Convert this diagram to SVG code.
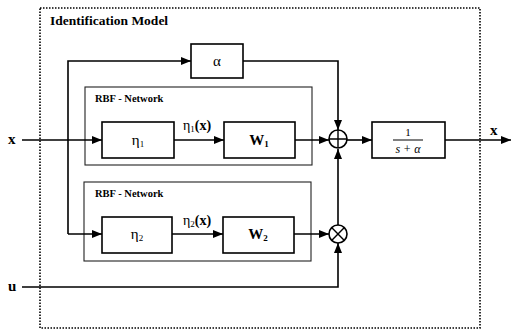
<svg xmlns="http://www.w3.org/2000/svg" width="513" height="331" viewBox="0 0 513 331" font-family="'Liberation Serif', 'DejaVu Serif', serif">
<style>
text{font-family:'Liberation Serif','DejaVu Serif',serif;fill:#000}
.b{font-weight:bold}
.box{fill:#fff;stroke:#000;stroke-width:1.6}
.net{fill:none;stroke:#222;stroke-width:1.1}
.ln{fill:none;stroke:#000;stroke-width:1.6}
.sub{font-size:9px}
</style>
<defs>
<marker id="ah" markerWidth="10" markerHeight="8" refX="10" refY="4" orient="auto" markerUnits="userSpaceOnUse">
<path d="M0,0 L10,4 L0,8 Z" fill="#000"/>
</marker>
</defs>
<rect x="0" y="0" width="513" height="331" fill="#fff"/>
<g id="outer">
<rect x="40" y="8" width="440" height="320" fill="none" stroke="#000" stroke-width="1.6" stroke-dasharray="1.5 1.5"/>
<text x="50" y="25" class="b" font-size="13.5">Identification Model</text>
</g>
<g id="rbf1">
<rect x="85" y="87" width="227" height="78" class="net"/>
<text x="95" y="102" class="b" font-size="10.5">RBF - Network</text>
</g>
<g id="rbf2">
<rect x="84" y="182" width="227" height="79" class="net"/>
<text x="95" y="197" class="b" font-size="10.5">RBF - Network</text>
</g>
<g id="connectors">
<path class="ln" d="M22,140 H102" marker-end="url(#ah)"/>
<path class="ln" d="M68,234 V61 H191" marker-end="url(#ah)"/>
<path class="ln" d="M68,234 H102" marker-end="url(#ah)"/>
<path class="ln" d="M243,61 H338 V130" marker-end="url(#ah)"/>
<path class="ln" d="M174,140 H224" marker-end="url(#ah)"/>
<path class="ln" d="M295,140 H329" marker-end="url(#ah)"/>
<path class="ln" d="M347,140 H372" marker-end="url(#ah)"/>
<path class="ln" d="M445,140 H511" marker-end="url(#ah)"/>
<path class="ln" d="M172,234 H223" marker-end="url(#ah)"/>
<path class="ln" d="M294,234 H329" marker-end="url(#ah)"/>
<path class="ln" d="M338,225 V149" marker-end="url(#ah)"/>
<path class="ln" d="M22,287 H338 V243" marker-end="url(#ah)"/>
</g>
<g id="alpha">
<rect x="191" y="44" width="52" height="34" class="box"/>
<text x="217" y="66" font-size="15" text-anchor="middle">α</text>
</g>
<g id="eta1">
<rect x="102" y="122" width="72" height="36" class="box"/>
<text x="138" y="145" font-size="15" text-anchor="middle">η<tspan class="sub" dy="2">1</tspan></text>
</g>
<g id="w1">
<rect x="224" y="122" width="71" height="36" class="box"/>
<text x="259" y="145" font-size="15" class="b" text-anchor="middle">W<tspan class="sub" dy="2">1</tspan></text>
</g>
<g id="eta2">
<rect x="102" y="217" width="70" height="36" class="box"/>
<text x="137" y="239" font-size="15" text-anchor="middle">η<tspan class="sub" dy="2">2</tspan></text>
</g>
<g id="w2">
<rect x="223" y="217" width="71" height="36" class="box"/>
<text x="258" y="239" font-size="15" class="b" text-anchor="middle">W<tspan class="sub" dy="2">2</tspan></text>
</g>
<g id="sum">
<circle cx="338" cy="139" r="9" fill="#fff" stroke="#000" stroke-width="1.6"/>
<path d="M329,139 H347 M338,130 V148" stroke="#000" stroke-width="1.4"/>
</g>
<g id="mult">
<circle cx="338" cy="234" r="9" fill="#fff" stroke="#000" stroke-width="1.6"/>
<path d="M331.6,227.6 L344.4,240.4 M344.4,227.6 L331.6,240.4" stroke="#000" stroke-width="1.4"/>
</g>
<g id="tf">
<rect x="372" y="122" width="73" height="36" class="box"/>
<text x="408" y="136" font-size="11" text-anchor="middle">1</text>
<line x1="393" y1="140" x2="423" y2="140" stroke="#000" stroke-width="1"/>
<text x="408" y="153" font-size="12" font-style="italic" text-anchor="middle">s + α</text>
</g>
<g id="labels">
<text x="8" y="144" class="b" font-size="15">x</text>
<text x="8" y="291" class="b" font-size="15">u</text>
<text x="490" y="135" class="b" font-size="15">x</text>
<text x="183" y="130" font-size="14">η<tspan class="sub" dy="2">1</tspan><tspan dy="-2" class="b">(x)</tspan></text>
<text x="183" y="225" font-size="14">η<tspan class="sub" dy="2">2</tspan><tspan dy="-2" class="b">(x)</tspan></text>
</g>
</svg>
